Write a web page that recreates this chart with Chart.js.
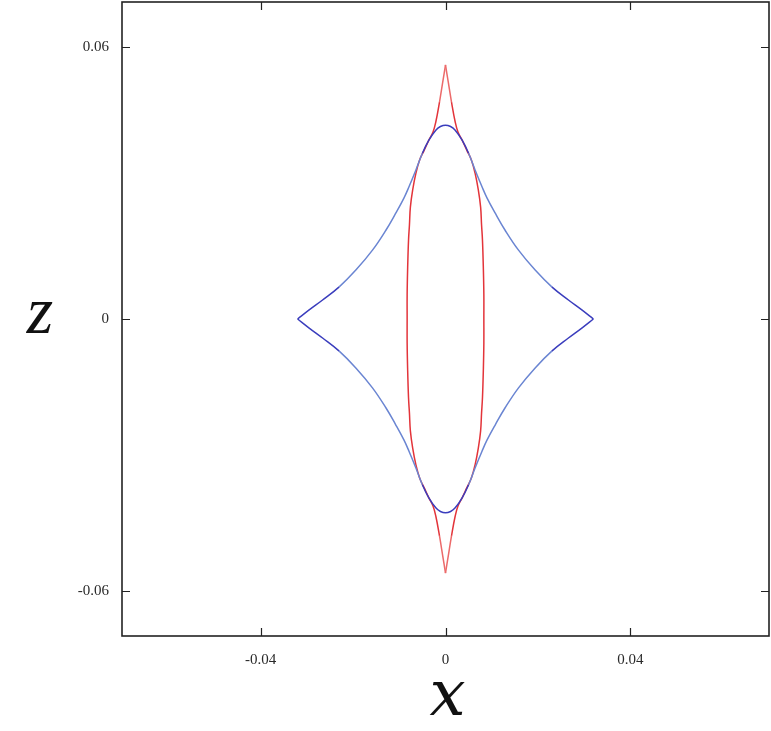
<!DOCTYPE html>
<html lang="en">
<head>
    <meta charset="UTF-8">
    <title>Caustics in the x-z plane</title>
    <script src="https://cdn.jsdelivr.net/npm/chart.js"></script>
    <style>
        body {
            margin: 0;
            padding: 0;
            background: #fff;
        }
        #wrap {
            width: 771px;
            height: 731px;
        }
    </style>
</head>
<body>
    <div id="wrap"><canvas id="causticChart" width="771" height="731"></canvas></div>

    <script>
        // tick values on each axis
        const xTicks = [-0.04, 0, 0.04];
        const zTicks = [-0.06, 0, 0.06];

        // blue curve (cusps left/right)
        const blueX = [-0.0320, -0.0295, -0.0266, -0.0230, -0.0194, -0.0158, -0.0129, -0.0108, -0.0090, -0.0079, -0.0064, -0.0050, -0.0036, -0.0021, -0.0011, 0,
                       0.0011, 0.0021, 0.0036, 0.0050, 0.0064, 0.0079, 0.0090, 0.0108, 0.0129, 0.0158, 0.0194, 0.0230, 0.0266, 0.0295, 0.0320];
        const blueUpperZ = [0, 0.0020, 0.0042, 0.0071, 0.0108, 0.0152, 0.0196, 0.0233, 0.0267, 0.0292, 0.0329, 0.0366, 0.0395, 0.0417, 0.0425, 0.0428,
                            0.0425, 0.0417, 0.0395, 0.0366, 0.0329, 0.0292, 0.0267, 0.0233, 0.0196, 0.0152, 0.0108, 0.0071, 0.0042, 0.0020, 0];
        const blueLowerZ = [0, -0.0020, -0.0042, -0.0071, -0.0108, -0.0152, -0.0196, -0.0233, -0.0267, -0.0292, -0.0329, -0.0366, -0.0395, -0.0417, -0.0425, -0.0428,
                            -0.0425, -0.0417, -0.0395, -0.0366, -0.0329, -0.0292, -0.0267, -0.0233, -0.0196, -0.0152, -0.0108, -0.0071, -0.0042, -0.0020, 0];

        // red curve (cusps top/bottom)
        const redZ = [0.0561, 0.0523, 0.0479, 0.0435, 0.0413, 0.0395, 0.0373, 0.0351, 0.0322, 0.0285, 0.0247, 0.0208, 0.0174, 0.0108, 0.0053, 0,
                      -0.0053, -0.0108, -0.0174, -0.0208, -0.0247, -0.0285, -0.0322, -0.0351, -0.0373, -0.0395, -0.0413, -0.0435, -0.0479, -0.0523, -0.0561];
        const redLeftX = [0, -0.0006, -0.0013, -0.0021, -0.0027, -0.0036, -0.0046, -0.0056, -0.0064, -0.0071, -0.0076, -0.0078, -0.0080, -0.0082, -0.0083, -0.0083,
                          -0.0083, -0.0082, -0.0080, -0.0078, -0.0076, -0.0071, -0.0064, -0.0056, -0.0046, -0.0036, -0.0027, -0.0021, -0.0013, -0.0006, 0];
        const redRightX = [0, 0.0006, 0.0013, 0.0021, 0.0027, 0.0036, 0.0046, 0.0056, 0.0064, 0.0071, 0.0076, 0.0078, 0.0080, 0.0082, 0.0083, 0.0083,
                           0.0083, 0.0082, 0.0080, 0.0078, 0.0076, 0.0071, 0.0064, 0.0056, 0.0046, 0.0036, 0.0027, 0.0021, 0.0013, 0.0006, 0];

        function pts(xs, zs) {
            return xs.map((x, i) => ({ x: x, y: zs[i] }));
        }

        // blue is darker near the cusps and the rounded top/bottom, lighter along the flanks
        function blueSeg(c) {
            const p = c.p0.parsed, q = c.p1.parsed;
            const z = Math.max(Math.abs(p.y), Math.abs(q.y));
            const x = Math.max(Math.abs(p.x), Math.abs(q.x));
            return (z > 0.037 || x > 0.025) ? '#3a3dbd' : '#6a85d2';
        }
        // red is paler near its cusps
        function redSeg(c) {
            const z = Math.min(Math.abs(c.p0.parsed.y), Math.abs(c.p1.parsed.y));
            return z > 0.044 ? '#ec6a6a' : '#e3343a';
        }

        function curve(xs, zs, color, seg) {
            return {
                data: pts(xs, zs),
                showLine: true,
                borderColor: color,
                borderWidth: 1.5,
                pointRadius: 0,
                tension: 0.4,
                fill: false,
                segment: { borderColor: seg }
            };
        }

        // frame, inward ticks on all four sides, and the x / z labels
        const framePlugin = {
            id: 'frame',
            afterDraw(chart) {
                const ctx = chart.ctx;
                const a = chart.chartArea;
                const xs = chart.scales.x;
                const ys = chart.scales.y;
                const tick = 8;
                ctx.save();
                ctx.strokeStyle = '#222';
                ctx.lineWidth = 1.6;
                ctx.strokeRect(a.left, a.top, a.right - a.left, a.bottom - a.top);
                ctx.lineWidth = 1.2;
                ctx.beginPath();
                xTicks.forEach(v => {
                    const px = Math.round(xs.getPixelForValue(v)) + 0.5;
                    ctx.moveTo(px, a.bottom); ctx.lineTo(px, a.bottom - tick);
                    ctx.moveTo(px, a.top); ctx.lineTo(px, a.top + tick);
                });
                zTicks.forEach(v => {
                    const py = Math.round(ys.getPixelForValue(v)) + 0.5;
                    ctx.moveTo(a.left, py); ctx.lineTo(a.left + tick, py);
                    ctx.moveTo(a.right, py); ctx.lineTo(a.right - tick, py);
                });
                ctx.stroke();

                ctx.fillStyle = '#111';
                ctx.textAlign = 'center';
                ctx.textBaseline = 'alphabetic';
                ctx.font = 'italic 64px "DejaVu Serif", serif';
                ctx.fillText('x', xs.getPixelForValue(0) + 2, 715);
                ctx.font = 'italic 68px "Liberation Serif", serif';
                ctx.fillText('z', 40, 333);
                ctx.restore();
            }
        };

        new Chart(document.getElementById('causticChart'), {
            type: 'scatter',
            data: {
                datasets: [
                    curve(blueX, blueUpperZ, '#5266cc', blueSeg),
                    curve(blueX, blueLowerZ, '#5266cc', blueSeg),
                    curve(redLeftX, redZ, '#e4383b', redSeg),
                    curve(redRightX, redZ, '#e4383b', redSeg)
                ]
            },
            options: {
                responsive: false,
                animation: false,
                devicePixelRatio: 1,
                layout: {
                    padding: { top: 2, right: 2, left: 0, bottom: 0 }
                },
                plugins: {
                    legend: { display: false },
                    tooltip: { enabled: false }
                },
                scales: {
                    x: {
                        type: 'linear',
                        min: -0.07,
                        max: 0.07,
                        grid: { display: false, drawTicks: false },
                        border: { display: false },
                        afterBuildTicks: s => { s.ticks = xTicks.map(v => ({ value: v })); },
                        afterFit: s => { s.height = 95; s.paddingLeft = 0; s.paddingRight = 0; },
                        ticks: {
                            padding: 15,
                            maxRotation: 0,
                            color: '#2a2a2a',
                            font: { family: '"Liberation Serif", serif', size: 15 },
                            callback: v => (v === 0 ? '0' : String(v))
                        }
                    },
                    y: {
                        type: 'linear',
                        min: -0.07,
                        max: 0.07,
                        grid: { display: false, drawTicks: false },
                        border: { display: false },
                        afterBuildTicks: s => { s.ticks = zTicks.map(v => ({ value: v })); },
                        afterFit: s => { s.width = 122; s.paddingTop = 0; s.paddingBottom = 0; },
                        ticks: {
                            padding: 13,
                            color: '#2a2a2a',
                            font: { family: '"Liberation Serif", serif', size: 15 },
                            callback: v => (v === 0 ? '0' : String(v))
                        }
                    }
                }
            },
            plugins: [framePlugin]
        });
    </script>
</body>
</html>
